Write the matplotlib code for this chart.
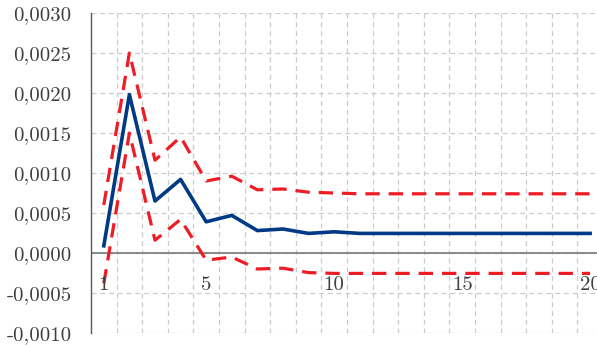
import numpy as np
import matplotlib.pyplot as plt

# impulse response with upper/lower confidence bands, 20 periods
periods = list(range(1, 21))
response = [0.00009, 0.00198, 0.00065, 0.00092, 0.00039, 0.00047, 0.00028, 0.00030,
            0.000245, 0.000265] + [0.000245] * 10
upper = [0.00060, 0.00250, 0.00116, 0.00145, 0.00090, 0.00096, 0.00079, 0.00080,
         0.00076, 0.00075] + [0.00074] * 10
lower = [-0.00038, 0.00150, 0.00016, 0.00042, -0.00009, -0.00005, -0.00020, -0.00019,
         -0.000245, -0.000255] + [-0.000255] * 10
x_labels = [1, 5, 10, 15, 20]
y_ticks = [-0.0010, -0.0005, 0.0, 0.0005, 0.0010, 0.0015, 0.0020, 0.0025, 0.0030]

plt.rcParams['font.family'] = 'cmr10'
plt.rcParams['axes.unicode_minus'] = False
text_col = '#404040'

fig = plt.figure(figsize=(5.97, 3.47), dpi=100)
ax = fig.add_axes([91 / 597, 14 / 347, 1 - 91 / 597, 320 / 347])

ax.plot(periods, upper, color='#ee1c25', lw=2.3, ls=(0, (4.5, 2.8)), zorder=3)
ax.plot(periods, lower, color='#ee1c25', lw=2.3, ls=(0, (4.5, 2.8)), zorder=3)
ax.plot(periods, response, color='#003a86', lw=2.6, zorder=4)

ax.set_xlim(0.5, 20.27)
ax.set_ylim(-0.0010, 0.0030)

# gridlines sit between the periods
ax.set_xticks(np.arange(1.5, 20, 1.0))
ax.set_xticklabels([])
ax.set_yticks(y_ticks)
ax.set_yticklabels([f'{v:.4f}'.replace('.', ',').replace('-0,0000', '0,0000') for v in y_ticks],
                   fontsize=15, color=text_col)
ax.tick_params(length=0, pad=14)
ax.grid(True, color='#cccccc', ls=(0, (4, 3)), lw=0.9)
ax.set_axisbelow(True)

for s in ['top', 'right', 'bottom']:
    ax.spines[s].set_visible(False)
ax.spines['left'].set_color('#595959')
ax.spines['left'].set_linewidth(1.0)
ax.axhline(0, color='#808080', lw=1.3, zorder=2)

# period labels sit just under the zero line; the last one runs off the edge
for v in x_labels:
    ax.text(v, -0.0004, str(v), ha='center', va='center', fontsize=15,
            color=text_col, clip_on=False, zorder=5)

fig.savefig('out.png', dpi=100)
